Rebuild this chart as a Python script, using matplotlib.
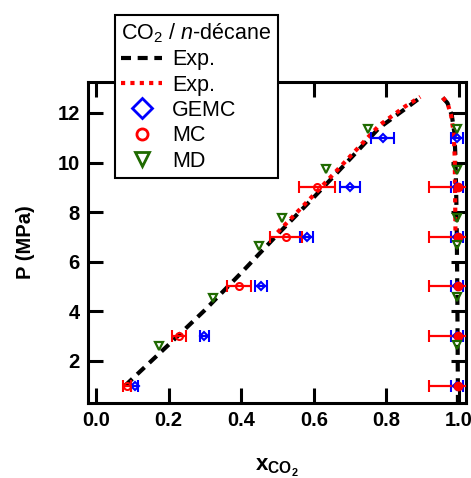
import matplotlib
matplotlib.use("Agg")
import matplotlib.pyplot as plt
from matplotlib.lines import Line2D

plt.rcParams['font.family'] = ['Liberation Sans', 'DejaVu Sans']
plt.rcParams['mathtext.fontset'] = 'custom'
plt.rcParams['mathtext.rm'] = 'Liberation Sans'
plt.rcParams['mathtext.it'] = 'Liberation Sans:italic'
plt.rcParams['mathtext.bf'] = 'Liberation Sans:bold'

# ---- data ----
exp1_bub_x = [0.08, 0.2, 0.3, 0.4, 0.5, 0.6, 0.7, 0.78, 0.85, 0.893]
exp1_bub_p = [1.0, 2.65, 4.05, 5.55, 7.1, 8.6, 10.15, 11.4, 12.15, 12.62]
exp1_dew_x = [0.955, 0.968, 0.98, 0.987, 0.99, 0.993, 0.995, 0.997]
exp1_dew_p = [12.62, 12.4, 11.9, 11.2, 10.2, 8.0, 5.0, 0.0]

exp2_bub_x = [0.5, 0.6, 0.7, 0.78, 0.85, 0.893]
exp2_bub_p = [7.18, 8.7, 10.25, 11.5, 12.25, 12.65]
exp2_dew_x = [0.955, 0.968, 0.978, 0.985, 0.988, 0.99]
exp2_dew_p = [12.62, 12.4, 11.9, 11.2, 10.2, 7.2]

gemc_liq_x = [0.107, 0.298, 0.455, 0.58, 0.70, 0.79]
gemc_liq_p = [1, 3, 5, 7, 9, 11]
gemc_liq_err = [0.01, 0.012, 0.017, 0.017, 0.028, 0.032]
gemc_vap_x = [0.995, 0.995, 0.995, 0.995, 0.995, 0.995]
gemc_vap_p = [1, 3, 5, 7, 9, 11]
gemc_vap_err = [0.017, 0.017, 0.017, 0.017, 0.017, 0.017]

mc_liq_x = [0.085, 0.229, 0.394, 0.523, 0.608]
mc_liq_p = [1, 3, 5, 7, 9]
mc_liq_err = [0.011, 0.019, 0.033, 0.043, 0.05]
mc_vap_x = [0.997, 0.997, 0.997, 0.997, 0.997]
mc_vap_p = [1, 3, 5, 7, 9]
mc_vap_err = [0.08, 0.08, 0.08, 0.08, 0.08]

md_liq_x = [0.174, 0.322, 0.449, 0.512, 0.634, 0.75]
md_liq_p = [2.6, 4.55, 6.65, 7.77, 9.74, 11.35]
md_vap_x = [0.995, 0.995, 0.995, 0.995, 0.995, 0.995]
md_vap_p = [2.64, 4.58, 6.68, 7.77, 9.7, 11.35]

xticks = [0.0, 0.2, 0.4, 0.6, 0.8, 1.0]
yticks = [2, 4, 6, 8, 10, 12]

# ---- figure ----
fig = plt.figure(figsize=(4.71, 4.78), dpi=100)
ax = fig.add_axes([88/471, 1-403/478, (466-88)/471, (403-82)/478])

dash_black = (0, (2.4, 1.6))
dot_red = (0, (1, 1.25))
green = '#1f6a00'
ax.plot(exp1_bub_x, exp1_bub_p, color='black', lw=3, linestyle=dash_black, zorder=2)
ax.plot(exp1_dew_x, exp1_dew_p, color='black', lw=3, linestyle=dash_black, zorder=2)
ax.plot(exp2_bub_x, exp2_bub_p, color='red', lw=3, linestyle=dot_red, zorder=3)
ax.plot(exp2_dew_x, exp2_dew_p, color='red', lw=3, linestyle=dot_red, zorder=3)

ekw = dict(capsize=4, elinewidth=1.6, capthick=1.6, linestyle='none', zorder=4)
ax.errorbar(gemc_liq_x, gemc_liq_p, xerr=gemc_liq_err, fmt='D', ms=4.3, mfc='none',
            mec='blue', mew=1.5, color='blue', ecolor='blue', **ekw)
ax.errorbar(gemc_vap_x, gemc_vap_p, xerr=gemc_vap_err, fmt='D', ms=4.3, mfc='none',
            mec='blue', mew=1.5, color='blue', ecolor='blue', **ekw)
ax.errorbar(mc_liq_x, mc_liq_p, xerr=mc_liq_err, fmt='o', ms=5, mfc='none',
            mec='red', mew=1.5, color='red', ecolor='red', **ekw)
ax.errorbar(mc_vap_x, mc_vap_p, xerr=mc_vap_err, fmt='o', ms=5.5, mfc='red',
            mec='red', mew=1.5, color='red', ecolor='red', **ekw)
ax.plot(md_liq_x, md_liq_p, 'v', ms=5.2, mfc='none', mec=green, mew=1.6, zorder=5)
ax.plot(md_vap_x, md_vap_p, 'v', ms=5.2, mfc='none', mec=green, mew=1.6, zorder=5)

ax.set_xlim(-0.022, 1.019)
ax.set_ylim(0.3, 13.25)
ax.set_xticks(xticks)
ax.set_yticks(yticks)
ax.set_xticklabels([f"{t:.1f}" for t in xticks])
ax.set_yticklabels([str(t) for t in yticks])
for s in ax.spines.values():
    s.set_linewidth(2.2)
ax.tick_params(direction='in', length=11, width=2.2, top=True, right=True,
               labelsize=14.5, pad=6)
for lab in ax.get_xticklabels() + ax.get_yticklabels():
    lab.set_fontweight('bold')

ax.set_ylabel('P (MPa)', fontsize=14.5, fontweight='bold', labelpad=16)
ax.set_xlabel(r'$\mathbf{x_{CO_2}}$', fontsize=16, labelpad=19)

handles = [
    Line2D([], [], color='black', lw=3, linestyle=dash_black),
    Line2D([], [], color='red', lw=3, linestyle=dot_red),
    Line2D([], [], marker='D', ms=10.5, mfc='none', mec='blue', mew=2, linestyle='none'),
    Line2D([], [], marker='o', ms=8, mfc='none', mec='red', mew=2, linestyle='none'),
    Line2D([], [], marker='v', ms=10.5, mfc='none', mec=green, mew=2, linestyle='none'),
]
labels = ['Exp.', 'Exp.', 'GEMC', 'MC', 'MD']
leg = fig.legend(handles, labels, loc='upper left',
                 bbox_to_anchor=(115/471, 1-15/478), bbox_transform=fig.transFigure,
                 title=r'CO$_2$ / $\it{n}$-décane', fontsize=15.5, title_fontsize=15.5,
                 frameon=True, fancybox=False, edgecolor='black', framealpha=1,
                 handlelength=1.9, handletextpad=0.45, labelspacing=0.2,
                 borderpad=0.3, borderaxespad=0, alignment='left')
leg.get_frame().set_linewidth(1.5)
leg.set_zorder(10)

fig.savefig('out.png', dpi=100)
